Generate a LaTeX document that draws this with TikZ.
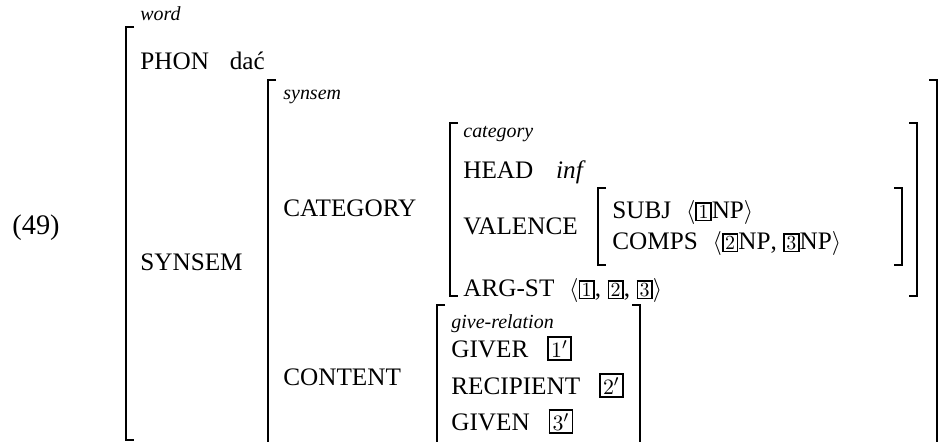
\documentclass[tikz,border=0pt,12pt]{standalone}
\usepackage{fontspec}
\setmainfont[Scale=1.05]{Liberation Serif}
\usetikzlibrary{positioning}
\tikzset{
  brak/.style={line width=1.1pt},
  attr/.style={anchor=base west, inner sep=0pt},
  sort/.style={anchor=base west, inner sep=0pt, font=\fontsize{9.5}{11}\selectfont\itshape},
}
% square brackets of the matrix: x, top y, bottom y
\def\openbr(#1,#2,#3){\draw[brak] (#1+8,#2) -| (#1,#3) -- ++(8,0);}
\def\closebr(#1,#2,#3){\draw[brak] (#1-8,#2) -| (#1,#3) -- ++(-8,0);}
% boxed tags
\newcommand\boxtag[1]{{\setlength\fboxsep{0.8pt}\setlength\fboxrule{0.8pt}\fbox{\footnotesize$#1$}}}
\newcommand\boxtagp[1]{{\setlength\fboxsep{1.2pt}\setlength\fboxrule{0.8pt}\fbox{\small$#1'$}}}

\begin{document}
\begin{tikzpicture}[x=0.5pt,y=-0.5pt]
			\useasboundingbox (0,0) rectangle (948,441);
			\clip (0,0) rectangle (948,441);
			
			\node[attr, font=\fontsize{13.5}{16}\selectfont] (ex) at (12,234) {(49)};
			
			%%%%% word %%%%%
			\openbr(126,27,440)
			\node[sort] (wordtype) at (140,20) {word};
			\node[attr] (phon) at (140,69) {PHON};
			\node[attr, base right=10pt of phon] (phonval) {dać};
			\node[attr] (synsem) at (140,270) {SYNSEM};
			
			%%%%% synsem %%%%%
			\openbr(268,80,470)
			\closebr(937,80,470)
			\node[sort] (synsemtype) at (283,99) {synsem};
			\node[attr] (cat) at (283,216) {CATEGORY};
			\node[attr] (cont) at (283,385) {CONTENT};
			
			%%%%% category %%%%%
			\openbr(450,123,296)
			\closebr(917,123,296)
			\node[sort] (cattype) at (463,137) {category};
			\node[attr] (head) at (463,178) {HEAD};
			\node[attr, base right=11pt of head] (headval) {\itshape inf};
			\node[attr] (val) at (463,234) {VALENCE};
			\node[attr] (argst) at (463,296) {ARG-ST};
			\node[attr, base right=7pt of argst] (argstval) {$\langle$\boxtag{1}, \boxtag{2}, \boxtag{3}$\rangle$};
			
			%%%%% valence %%%%%
			\openbr(598,188,265)
			\closebr(902,188,265)
			\node[attr] (subj) at (612,218) {SUBJ};
			\node[attr, base right=7pt of subj] (subjval) {$\langle$\boxtag{1}$\mathrm{NP}\rangle$};
			\node[attr] (comps) at (612,249) {COMPS};
			\node[attr, base right=7pt of comps] (compsval) {$\langle$\boxtag{2}$\mathrm{NP}$, \boxtag{3}$\mathrm{NP}\rangle$};
			
			%%%%% content %%%%%
			\openbr(437,305,470)
			\closebr(640,305,470)
			\node[sort] (conttype) at (451,328) {give-relation};
			\node[attr] (giver) at (451,357) {GIVER};
			\node[attr, base right=9pt of giver] (givertag) {\boxtagp{1}};
			\node[attr] (recip) at (451,394) {RECIPIENT};
			\node[attr, base right=9pt of recip] (reciptag) {\boxtagp{2}};
			\node[attr] (given) at (451,430) {GIVEN};
			\node[attr, base right=9pt of given] (giventag) {\boxtagp{3}};
\end{tikzpicture}
\end{document}
